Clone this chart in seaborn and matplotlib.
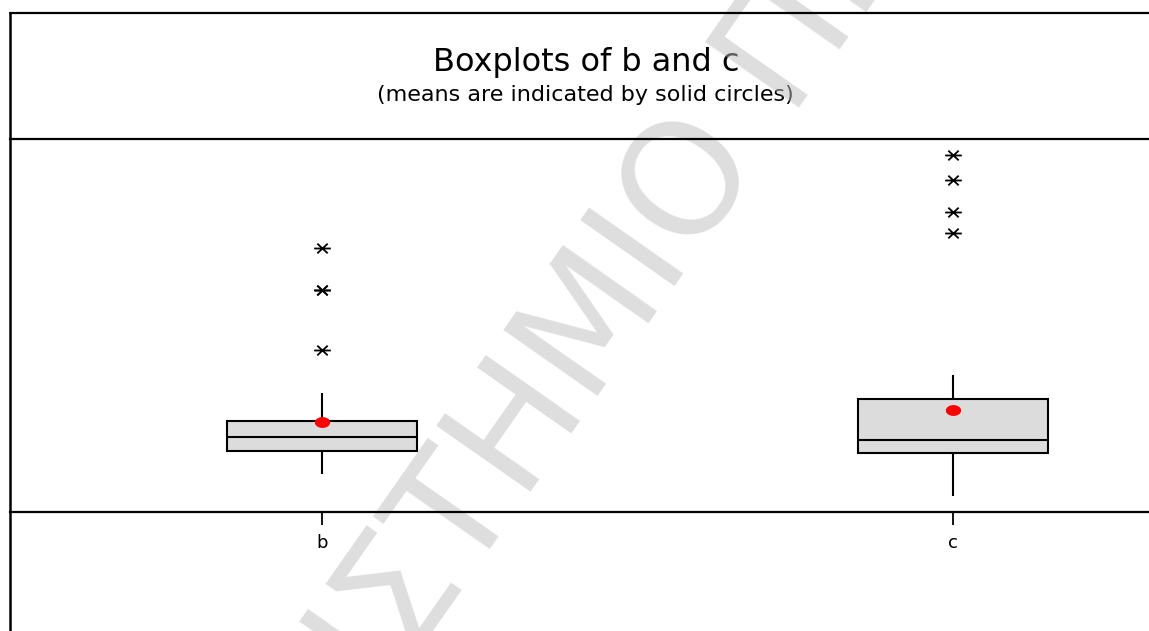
import numpy as np
import pandas as pd
import matplotlib
matplotlib.use("Agg")
import matplotlib.pyplot as plt
from matplotlib.path import Path
from matplotlib.lines import Line2D
from matplotlib.font_manager import FontProperties
import seaborn as sns

# Observations of the two variables
b_values = [10.2, 10.4, 10.7, 11.0, 11.4, 12.0, 13.0, 16.2, 17.0, 17.5,
            18.0, 18.6, 19.1, 19.6, 20.0, 20.2, 20.4, 20.7, 22.1, 22.8,
            23.4, 24.1, 24.5, 26.3, 28.7, 31.9, 43.4, 59.5, 59.5, 70.8]
c_values = [4.3, 6.0, 7.5, 8.5, 9.5, 11.0, 13.5, 15.6, 16.4, 16.9,
            17.4, 17.9, 18.4, 18.9, 19.2, 19.4, 19.6, 19.8, 20.0, 20.3,
            20.8, 30.0, 30.4, 30.5, 30.6, 36.7, 74.8, 80.4, 89.0, 95.7]
categories = ["b", "c"]
title = "Boxplots of b and c"
subtitle = "(means are indicated by solid circles)"
watermark = "ΠΑΝΕΠΙΣΤΗΜΙΟ ΠΕΙΡΑΙΩΣ"

df = pd.DataFrame({
    "variable": ["b"] * len(b_values) + ["c"] * len(c_values),
    "value": b_values + c_values,
})

W, H, DPI = 1149, 631, 100
sns.set_theme(style="white")
plt.rcParams["font.family"] = ["DejaVu Sans"]

fig = plt.figure(figsize=(W / DPI, H / DPI), dpi=DPI)
fig.patch.set_facecolor("white")


def fx(px):
    return px / W


def fy(py):
    return 1 - py / H


# Plot panel (pixel geometry); it runs on past the right edge of the page
pos_b, unit = 322, 631
ax_left, ax_top, ax_bottom = 10, 139, 512
ax_right = pos_b + 1.5 * unit
ax = fig.add_axes([fx(ax_left), fy(ax_bottom),
                   (ax_right - ax_left) / W, (ax_bottom - ax_top) / H])
ax.set_zorder(3)
ax.patch.set_alpha(0)

# Asterisk outlier symbol and slightly flattened mean dot
asterisk = Path([(-1, 0), (1, 0), (-0.62, -0.58), (0.62, 0.58),
                 (-0.62, 0.58), (0.62, -0.58)],
                [Path.MOVETO, Path.LINETO] * 3)
theta = np.linspace(0, 2 * np.pi, 61)
ellipse = Path(np.column_stack([np.cos(theta), 0.68 * np.sin(theta)]), closed=True)

sns.boxplot(
    data=df, x="variable", y="value", order=categories, ax=ax,
    width=0.3, color="#dcdcdc", saturation=1, linecolor="black", linewidth=1.5,
    showcaps=False, whis=1.5, showmeans=True,
    meanprops=dict(marker=ellipse, markerfacecolor="#ff0000",
                   markeredgecolor="#ff0000", markersize=10),
    flierprops=dict(marker=asterisk, markerfacecolor="none",
                    markeredgecolor="black", markersize=12, markeredgewidth=1.3),
)

ax.set_xlim(-(pos_b - ax_left) / unit, (ax_right - pos_b) / unit)
ax.set_ylim(0, 100)
ax.set_yticks([])
ax.set_xlabel("")
ax.set_ylabel("")
for side in ("left", "right"):
    ax.spines[side].set_visible(False)
for side in ("top", "bottom"):
    ax.spines[side].set_visible(True)
    ax.spines[side].set_color("black")
    ax.spines[side].set_linewidth(1.6)
ax.tick_params(axis="x", bottom=True, direction="out", length=9, width=1.3,
               colors="black", labelsize=13, pad=7)

# Outer frame
fig.add_artist(Line2D([fx(10), fx(10)], [fy(13), 0], transform=fig.transFigure,
                      color="black", lw=1.8, zorder=4))
fig.add_artist(Line2D([fx(10), 1], [fy(13), fy(13)], transform=fig.transFigure,
                      color="black", lw=1.6, zorder=4))

# Title block
fig.text(fx(586), fy(71), title, ha="center", va="baseline", fontsize=23,
         color="black", zorder=1)
fig.text(fx(585), fy(101), subtitle, ha="center", va="baseline", fontsize=16,
         color="black", zorder=1)

# Diagonal watermark, placed so that the letter "Ο" is centred on a given point
wm_size = 112
wm_angle = np.deg2rad(55)
renderer = fig.canvas.get_renderer()
wm_prop = FontProperties(family="DejaVu Sans", size=wm_size)
w_pre, _, _ = renderer.get_text_width_height_descent("ΠΑΝΕΠΙΣΤΗΜΙ", wm_prop, ismath=False)
w_o, _, _ = renderer.get_text_width_height_descent("Ο", wm_prop, ismath=False)
em_px = wm_size * DPI / 72
u = np.array([np.cos(wm_angle), np.sin(wm_angle)])
n = np.array([-np.sin(wm_angle), np.cos(wm_angle)])
o_center = np.array([681.0, H - 177.5])
start = o_center - 0.365 * em_px * n - (w_pre + w_o / 2) * u
fig.text(start[0] / W, start[1] / H, watermark, rotation=55, rotation_mode="anchor",
         ha="left", va="baseline", fontproperties=wm_prop, color="#bdbdbd",
         alpha=0.5, zorder=2)

fig.savefig("out.png", dpi=DPI, facecolor="white")
